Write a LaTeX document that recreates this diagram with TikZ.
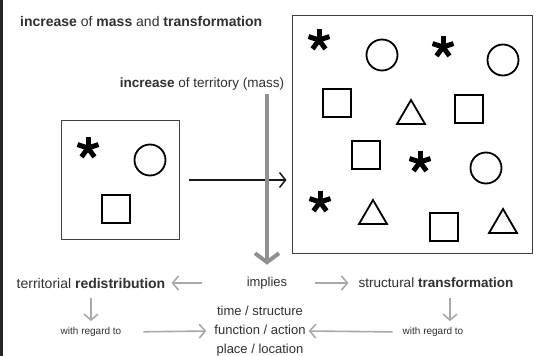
\documentclass[tikz,border=0pt]{standalone}
\usepackage{fontspec}
\setmainfont{Liberation Sans}
\usetikzlibrary{arrows.meta}

\definecolor{txtgray}{HTML}{303030}
\definecolor{arrgray}{HTML}{A9A9A9}

\begin{document}
\begin{tikzpicture}[x=1pt, y=-1pt,
    txt/.style={text=txtgray, font=\fontsize{13}{15}\selectfont, inner sep=0pt},
    small/.style={text=txtgray, font=\fontsize{10}{12}\selectfont, inner sep=0pt},
    frame/.style={draw=black!75, line width=1pt, inner sep=0pt},
    shp/.style={black, line width=1.8pt},
    ast/.style={black, line width=5pt},
    garrow/.style={draw=arrgray, line width=1.6pt, -{Straight Barb[length=6pt, width=14pt]}},
    bigarrow/.style={draw=arrgray!85!black, line width=4pt, -{Straight Barb[length=9pt, width=24pt]}},
    blackarrow/.style={draw=black!90, line width=1.5pt, -{Straight Barb[length=6pt, width=15pt]}}
  ]
	\useasboundingbox (0,0) rectangle (539,356);
	\fill[black!85] (0,0) rectangle (3,356);

	% headings
	\node[txt, anchor=west, font=\fontsize{14}{16}\selectfont] (title) at (20,21) {\textbf{increase} of \textbf{mass} and \textbf{transformation}};
	\node[txt, font=\fontsize{13.5}{16}\selectfont] (territory) at (202,84) {\textbf{increase} of territory (mass)};

	% the two boxes
	\node[frame, minimum width=118pt, minimum height=119pt] (lbox) at (120,180) {};
	\node[frame, minimum width=240pt, minimum height=238pt] (rbox) at (412,134) {};

	% asterisks
	\foreach \x/\y in {88/148, 319/40, 443/47, 420/162, 320/202}
		\foreach \a in {18,90,162,234,306}
			\draw[ast, shift={(\x,\y)}] (0,0) -- (\a:11pt);
	% circles
	\foreach \x/\y in {150/160, 382/55, 503/60, 486/168}
		\draw[shp] (\x,\y) circle [radius=15.5];
	% squares
	\foreach \x/\y in {116/209, 337/103, 469/109, 366/155, 444/227}
		\draw[shp, shift={(\x,\y)}] (-14,-14) rectangle (14,14);
	% triangles
	\foreach \x/\y in {411/124, 373/224, 503/233}
		\draw[shp, shift={(\x,\y)}] (-14,0) -- (0,-24) -- (14,0) -- cycle;

	% bottom row
	\node[txt] (implies) at (267,283) {implies};
	\node[txt, font=\fontsize{14}{16}\selectfont] (redis) at (91,283) {territorial \textbf{redistribution}};
	\node[txt, font=\fontsize{13.5}{16}\selectfont] (struct) at (436,283) {structural \textbf{transformation}};
	\node[small] (regl) at (91,332) {with regard to};
	\node[small] (regr) at (433,332) {with regard to};
	\node[txt, align=center, font=\fontsize{13}{19}\selectfont] (aspects) at (260,331) {time / structure\\function / action\\place / location};

	% arrows
	\draw[blackarrow, shorten <=9pt, shorten >=5pt] (lbox.east) -- (lbox.east -| rbox.west);
	\draw[bigarrow, shorten <=4pt, shorten >=12pt] (implies |- territory.south) -- (implies.north);

	\draw[garrow, shorten <=45pt, shorten >=6pt] (implies.west) -- (redis.east);
	\draw[garrow, shorten <=28pt, shorten >=10pt] (implies.east) -- (struct.west);
	\draw[garrow, shorten <=10pt, shorten >=6pt] (redis.south) -- (redis.south |- regl.north);
	\draw[garrow, shorten <=10pt, shorten >=6pt] ([xshift=14pt]struct.south) -- ([xshift=14pt]struct.south |- regr.north);
	\draw[garrow, shorten <=22pt, shorten >=8pt] (regl.east) -- (aspects.west);
	\draw[garrow, shorten <=10pt, shorten >=3pt] (regr.west) -- (aspects.east);
\end{tikzpicture}
\end{document}
